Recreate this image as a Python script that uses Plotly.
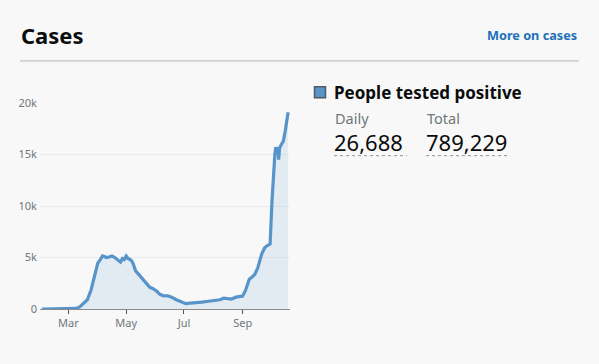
import plotly.graph_objects as go

dates = ["2020-02-02", "2020-02-15", "2020-03-01", "2020-03-09", "2020-03-13", "2020-03-18",
         "2020-03-21", "2020-03-25", "2020-03-29", "2020-04-01", "2020-04-04", "2020-04-06",
         "2020-04-08", "2020-04-10", "2020-04-13", "2020-04-16", "2020-04-19", "2020-04-22",
         "2020-04-25", "2020-04-27", "2020-04-29", "2020-05-01", "2020-05-03", "2020-05-06",
         "2020-05-08", "2020-05-11", "2020-05-15", "2020-05-19", "2020-05-23", "2020-05-26",
         "2020-05-29", "2020-06-02", "2020-06-06", "2020-06-09", "2020-06-14", "2020-06-18",
         "2020-06-23", "2020-06-28", "2020-07-03", "2020-07-08", "2020-07-14", "2020-07-20",
         "2020-07-27", "2020-08-03", "2020-08-08", "2020-08-12", "2020-08-16", "2020-08-20",
         "2020-08-25", "2020-09-01", "2020-09-04", "2020-09-08", "2020-09-11", "2020-09-14",
         "2020-09-17", "2020-09-21", "2020-09-24", "2020-09-26", "2020-09-30", "2020-10-02",
         "2020-10-05", "2020-10-06", "2020-10-07", "2020-10-08", "2020-10-09", "2020-10-10",
         "2020-10-12", "2020-10-14", "2020-10-16", "2020-10-19"]
cases = [0, 0, 20, 60, 200, 580,
         900, 1870, 3300, 4450, 4850, 5150,
         5100, 5000, 5050, 5150, 5000, 4800,
         4550, 4900, 4800, 5150, 4900, 4750,
         4500, 3700, 3250, 2850, 2400, 2100,
         2000, 1750, 1400, 1300, 1280, 1150,
         900, 700, 520, 580, 600, 660,
         750, 850, 900, 1050, 1020, 970,
         1150, 1250, 1800, 2900, 3100, 3400,
         4000, 5300, 5900, 6100, 6300, 10500,
         15000, 15700, 15400, 15700, 14500, 15600,
         16000, 16300, 17300, 19100]

ytick_vals = [0, 5000, 10000, 15000, 20000]
ytick_text = ["0", "5k", "10k", "15k", "20k"]
xtick_vals = ["2020-03-01", "2020-05-01", "2020-07-01", "2020-09-01"]
xtick_text = ["Mar", "May", "Jul", "Sep"]

legend_label = "People tested positive"
daily_label, daily_value = "Daily", "26,688"
total_label, total_value = "Total", "789,229"

W, H = 599, 364
L, R, T, B = 40, 290, 102.7, 309.3
PW, PH = R - L, B - T


def px(x):
    return (x - L) / PW


def py(y):
    return (B - y) / PH


FONT = "Noto Sans"
BLUE = "#5694ca"
GREY = "#6f777b"

fig = go.Figure()
fig.add_trace(go.Scatter(
    x=dates, y=cases, mode="lines",
    line=dict(color=BLUE, width=3.2),
    fill="tozeroy", fillcolor="rgba(86,148,202,0.12)",
    hoverinfo="skip", showlegend=False))

fig.update_layout(
    width=W, height=H,
    margin=dict(l=L, r=W - R, t=T, b=H - B, pad=0),
    paper_bgcolor="#f8f8f8", plot_bgcolor="#f8f8f8",
    font=dict(family=FONT, color=GREY, size=11),
    xaxis=dict(range=["2020-01-31", "2020-10-21"], tickvals=xtick_vals, ticktext=xtick_text,
               showgrid=False, showline=True, linecolor="#8a8a8a", linewidth=1,
               ticks="outside", ticklen=4, tickcolor="#555555", tickwidth=1,
               tickfont=dict(size=11, color=GREY, family=FONT), zeroline=False, fixedrange=True),
    yaxis=dict(range=[0, 20000], tickvals=ytick_vals, ticktext=ytick_text,
               showgrid=True, gridcolor="#ebebeb", gridwidth=1, zeroline=False,
               showline=False, ticks="", ticklabelstandoff=2,
               tickfont=dict(size=11, color=GREY, family=FONT), fixedrange=True),
)

ann = []
ann.append(dict(text="<b>Cases</b>", x=px(19), y=py(35), xanchor="left", yanchor="middle",
                font=dict(size=22, color="#0b0c0c", family=FONT)))
ann.append(dict(text="<b>More on cases</b>", x=px(579), y=py(35), xanchor="right", yanchor="middle",
                font=dict(size=12.7, color="#1d70b8", family=FONT)))
ann.append(dict(text="<b>" + legend_label + "</b>", x=px(332), y=py(92), xanchor="left", yanchor="middle",
                font=dict(size=17, color="#0b0c0c", family=FONT)))
ann.append(dict(text=daily_label, x=px(333), y=py(118), xanchor="left", yanchor="middle",
                font=dict(size=14.5, color=GREY, family=FONT)))
ann.append(dict(text=total_label, x=px(425), y=py(118), xanchor="left", yanchor="middle",
                font=dict(size=14.5, color=GREY, family=FONT)))
ann.append(dict(text=daily_value, x=px(332), y=py(142), xanchor="left", yanchor="middle",
                font=dict(size=22, color="#0b0c0c", family=FONT)))
ann.append(dict(text=total_value, x=px(424), y=py(142), xanchor="left", yanchor="middle",
                font=dict(size=22, color="#0b0c0c", family=FONT)))
for a in ann:
    a.update(xref="paper", yref="paper", showarrow=False)
fig.update_layout(annotations=ann)

shapes = [
    dict(type="line", x0=px(20), x1=px(579), y0=py(60.5), y1=py(60.5),
         line=dict(color="#b1b4b6", width=1)),
    dict(type="rect", x0=px(314.5), x1=px(325.5), y0=py(97.5), y1=py(86.5),
         line=dict(color="#505a5f", width=1.5), fillcolor=BLUE),
    dict(type="line", x0=px(334), x1=px(407), y0=py(155.5), y1=py(155.5),
         line=dict(color="#8f9496", width=1, dash="dot")),
    dict(type="line", x0=px(426), x1=px(510), y0=py(155.5), y1=py(155.5),
         line=dict(color="#8f9496", width=1, dash="dot")),
]
for s in shapes:
    s.update(xref="paper", yref="paper")
fig.update_layout(shapes=shapes)

fig.write_html("out.html", config={"displayModeBar": False})

with open("out.html", "r", encoding="utf-8") as f:
    html = f.read()
html = html.replace("<body>", '<body style="margin:0;padding:0;overflow:hidden;background:#f8f8f8">', 1)
with open("out.html", "w", encoding="utf-8") as f:
    f.write(html)
